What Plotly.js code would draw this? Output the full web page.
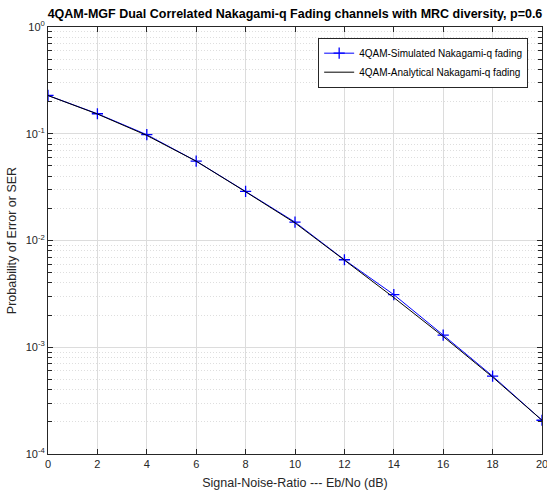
<!DOCTYPE html>
<html>
<head>
<meta charset="utf-8">
<script src="https://cdn.plot.ly/plotly-3.0.1.min.js"></script>
<style>html,body{margin:0;padding:0;background:#fff;}#chart{width:547px;height:495px;}</style>
</head>
<body>
<div id="chart"></div>
<script>
var snrDb = [0, 2, 4, 6, 8, 10, 12, 14, 16, 18, 20];
var serSimulated = [0.2285, 0.154, 0.098, 0.0554, 0.0288, 0.01486, 0.0066, 0.00311, 0.0013, 0.000537, 0.000207];
var serAnalytical = [0.228, 0.153, 0.0965, 0.0553, 0.0286, 0.0146, 0.00655, 0.00292, 0.00126, 0.000525, 0.000207];
var yTickVals = [1, 0.1, 0.01, 0.001, 0.0001];
var yTickText = ['10<sup>0</sup>', '10<sup>-1</sup>', '10<sup>-2</sup>', '10<sup>-3</sup>', '10<sup>-4</sup>'];
var xTickVals = [0, 2, 4, 6, 8, 10, 12, 14, 16, 18, 20];

var minorVals = [];
for (var e = -4; e < 0; e++) {
  for (var d = 2; d <= 9; d++) minorVals.push(d * Math.pow(10, e));
}

var axisColor = '#262626';
var font = {family: 'Liberation Sans, Arial, sans-serif', color: axisColor};

var traces = [
  {
    x: snrDb, y: serSimulated, type: 'scatter', mode: 'lines+markers',
    name: '4QAM-Simulated Nakagami-q fading',
    line: {color: '#0000ff', width: 1},
    marker: {symbol: 'cross-thin', size: 8, color: '#0000ff', line: {color: '#0000ff', width: 1.3}}
  },
  {
    x: snrDb, y: serAnalytical, type: 'scatter', mode: 'lines',
    name: '4QAM-Analytical Nakagami-q fading',
    line: {color: '#000000', width: 1}
  }
];

var layout = {
  width: 547, height: 495,
  margin: {l: 48, r: 5, t: 27, b: 41},
  paper_bgcolor: '#ffffff', plot_bgcolor: '#ffffff',
  font: font,
  showlegend: true,
  title: {
    text: '<b>4QAM-MGF Dual Correlated Nakagami-q Fading channels with MRC diversity, p=0.6</b>',
    font: {family: font.family, size: 12.5, color: '#000000'},
    x: 0.5, xref: 'paper', xanchor: 'center', y: 0.972, yanchor: 'middle'
  },
  xaxis: {
    range: [0, 20], tickvals: xTickVals, ticktext: xTickVals.map(String),
    ticks: 'inside', ticklen: 5, tickcolor: axisColor, tickwidth: 1,
    showline: true, linecolor: axisColor, linewidth: 1, mirror: 'ticks',
    showgrid: true, gridcolor: '#dcdcdc', gridwidth: 1, zeroline: false,
    ticklabeloverflow: 'allow',
    tickfont: {size: 11, color: axisColor},
    title: {text: 'Signal-Noise-Ratio --- Eb/No (dB)', font: {size: 12.5, color: axisColor}, standoff: 9}
  },
  yaxis: {
    type: 'log', range: [-4, 0], tickvals: yTickVals, ticktext: yTickText,
    ticks: 'inside', ticklen: 5, tickcolor: axisColor, tickwidth: 1,
    showline: true, linecolor: axisColor, linewidth: 1, mirror: 'ticks',
    showgrid: true, gridcolor: '#dcdcdc', gridwidth: 1, zeroline: false,
    tickfont: {size: 11, color: axisColor},
    minor: {tickmode: 'array', tickvals: minorVals, ticks: 'inside', ticklen: 4, tickcolor: axisColor,
            showgrid: true, gridcolor: '#dedede', griddash: '1px,2px', gridwidth: 1},
    title: {text: 'Probability of Error or SER', font: {size: 12.5, color: axisColor}, standoff: 6}
  },
  legend: {
    x: 0.972, xanchor: 'right', y: 0.975, yanchor: 'top',
    bgcolor: '#ffffff', bordercolor: '#262626', borderwidth: 1,
    font: {size: 10, color: '#000000'},
    tracegroupgap: 0, itemwidth: 30
  }
};

Plotly.newPlot('chart', traces, layout, {displayModeBar: false, staticPlot: true});
</script>
</body>
</html>
